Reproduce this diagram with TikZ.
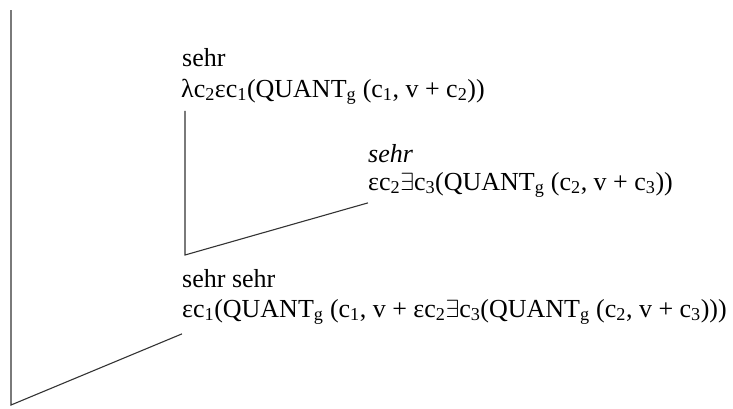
\documentclass[tikz,border=0pt]{standalone}
\usepackage{fontspec}
\setmainfont{Liberation Serif}
\usetikzlibrary{positioning}
\newcommand{\sbs}[1]{\textsubscript{#1}}
\newcommand{\exq}{$\exists$}

\begin{document}
\begin{tikzpicture}[
  x=1pt,y=-1pt,
  lbl/.style={anchor=base west, inner sep=0pt, font=\fontsize{26}{30}\selectfont},
  edge/.style={line width=1.1pt, black!80}
]
\useasboundingbox (0,0) rectangle (733,408);
% constituents
\node[lbl] (wordA) at (182,66) {sehr};
\node[lbl] (semA) at (181,97) {λc\sbs{2}εc\sbs{1}(QUANT\sbs{g} (c\sbs{1}, v + c\sbs{2}))};
\node[lbl] (wordB) at (368,162) {\itshape sehr};
\node[lbl] (semB) at (368,190) {εc\sbs{2}\exq c\sbs{3}(QUANT\sbs{g} (c\sbs{2}, v + c\sbs{3}))};
\node[lbl] (wordC) at (182,287) {sehr sehr};
\node[lbl] (semC) at (182,317) {εc\sbs{1}(QUANT\sbs{g} (c\sbs{1}, v + εc\sbs{2}\exq c\sbs{3}(QUANT\sbs{g} (c\sbs{2}, v + c\sbs{3})))};
% branches
\coordinate (joint) at (185,255);
\coordinate (root) at (11,405);
\coordinate (topend) at (11,10);
\draw[edge] ([xshift=4pt,yshift=-6pt]semA.south west) -- (joint) -- ([yshift=-5pt]semB.south west);
\draw[edge] (topend) -- (root) -- ([yshift=-9pt]semC.south west);
\end{tikzpicture}
\end{document}
